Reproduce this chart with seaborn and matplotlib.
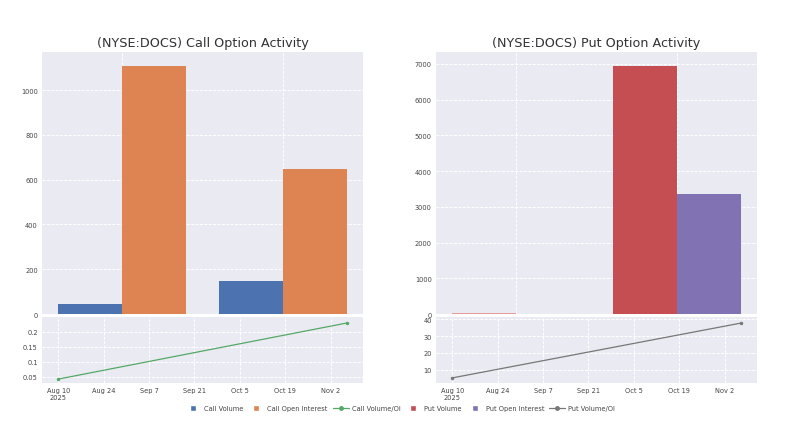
import seaborn as sns
import matplotlib.pyplot as plt
from matplotlib.patches import Patch, Rectangle
from matplotlib.lines import Line2D
from matplotlib.legend_handler import HandlerPatch
import pandas as pd

# values
dates = ['2025-08-10', '2025-11-07']
call_volume = [45, 149]
call_oi = [1108, 649]
put_volume = [40, 6952]
put_oi = [8, 3351]
call_ratio = [0.043, 0.23]
put_ratio = [5.3, 37.6]
date_ticks = ['2025-08-10', '2025-08-24', '2025-09-07', '2025-09-21',
              '2025-10-05', '2025-10-19', '2025-11-02']
date_labels = ['Aug 10\n2025', 'Aug 24', 'Sep 7', 'Sep 21', 'Oct 5', 'Oct 19', 'Nov 2']

blue, orange, green = '#4c72b0', '#dd8452', '#55a868'
red, purple, grey = '#c44e52', '#8172b3', '#777777'

sns.set_theme(style='darkgrid')
plt.rcParams['font.family'] = ['DejaVu Sans']
plt.rcParams['grid.color'] = 'white'
plt.rcParams['grid.linestyle'] = (0, (3, 1.5))
plt.rcParams['grid.linewidth'] = 0.7

fig = plt.figure(figsize=(8, 4.27), dpi=100)
W, H = 800, 427

def px_axes(x0, x1, y0, y1):
    return fig.add_axes([x0 / W, 1 - y1 / H, (x1 - x0) / W, (y1 - y0) / H])

df_call = pd.DataFrame({
    'date': dates * 2,
    'value': call_volume + call_oi,
    'series': ['Call Volume'] * 2 + ['Call Open Interest'] * 2,
})
df_put = pd.DataFrame({
    'date': dates * 2,
    'value': put_volume + put_oi,
    'series': ['Put Volume'] * 2 + ['Put Open Interest'] * 2,
})
df_call_ratio = pd.DataFrame({'date': pd.to_datetime(dates), 'ratio': call_ratio})
df_put_ratio = pd.DataFrame({'date': pd.to_datetime(dates), 'ratio': put_ratio})

tick_dates = pd.to_datetime(date_ticks)


def style_top(ax, ymax, yticks):
    ax.set_xlim(-0.5, 1.5)
    ax.set_ylim(0, ymax)
    ax.set_yticks(yticks)
    ax.set_xticks([0, 1])
    ax.set_xticklabels([])
    ax.xaxis.grid(True)
    ax.set_xlabel('')
    ax.set_ylabel('')
    ax.tick_params(axis='y', labelsize=4.8, pad=3, length=0, labelcolor='#444444')
    ax.tick_params(axis='x', length=0)
    if ax.get_legend() is not None:
        ax.get_legend().remove()
    for s in ax.spines.values():
        s.set_visible(False)


def style_bottom(ax, ylim, yticks, ylabels):
    ax.set_xlim(pd.Timestamp('2025-08-05'), pd.Timestamp('2025-11-12'))
    ax.set_ylim(*ylim)
    ax.set_yticks(yticks)
    ax.set_yticklabels(ylabels)
    ax.set_xticks(tick_dates)
    ax.set_xticklabels(date_labels)
    ax.set_xlabel('')
    ax.set_ylabel('')
    ax.tick_params(axis='both', labelsize=4.8, length=0, labelcolor='#444444')
    ax.tick_params(axis='x', pad=3)
    ax.tick_params(axis='y', pad=3)
    for s in ax.spines.values():
        s.set_visible(False)


# call side
ax1 = px_axes(42, 363, 53, 315)
sns.barplot(data=df_call, x='date', y='value', hue='series',
            palette=[blue, orange], width=0.8, gap=0, ax=ax1,
            edgecolor='none', saturation=1)
style_top(ax1, 1170, [0, 200, 400, 600, 800, 1000])
ax1.set_title('(NYSE:DOCS) Call Option Activity', fontsize=9.2, color='#333333', pad=4)

ax2 = px_axes(42, 363, 318, 384)
sns.lineplot(data=df_call_ratio, x='date', y='ratio', color=green, marker='o',
             markersize=2.5, markeredgewidth=0, linewidth=0.9, ax=ax2)
style_bottom(ax2, (0.03, 0.25), [0.05, 0.1, 0.15, 0.2], ['0.05', '0.1', '0.15', '0.2'])

# put side
ax3 = px_axes(436, 757, 53, 315)
sns.barplot(data=df_put, x='date', y='value', hue='series',
            palette=[red, purple], width=0.8, gap=0, ax=ax3,
            edgecolor='none', saturation=1)
# first put volume bar is drawn faded in the reference
ax3.patches[0].set_facecolor('#e79a9c')
style_top(ax3, 7336, [0, 1000, 2000, 3000, 4000, 5000, 6000, 7000])
ax3.set_title('(NYSE:DOCS) Put Option Activity', fontsize=9.2, color='#333333', pad=4)

ax4 = px_axes(436, 757, 318, 384)
sns.lineplot(data=df_put_ratio, x='date', y='ratio', color=grey, marker='o',
             markersize=2.5, markeredgewidth=0, linewidth=0.9, ax=ax4)
style_bottom(ax4, (2.3, 41.2), [10, 20, 30, 40], ['10', '20', '30', '40'])


def small_square(legend, orig_handle, xdescent, ydescent, width, height, fontsize):
    side = 6 * 72 / 100
    return Rectangle((width - side - 3.6 - xdescent, height / 2 - side / 2 - ydescent), side, side)


handles = [
    Patch(facecolor=blue, label='Call Volume'),
    Patch(facecolor=orange, label='Call Open Interest'),
    Line2D([], [], color=green, marker='o', markersize=2.5, linewidth=0.9, label='Call Volume/OI'),
    Patch(facecolor=red, label='Put Volume'),
    Patch(facecolor=purple, label='Put Open Interest'),
    Line2D([], [], color=grey, marker='o', markersize=2.5, linewidth=0.9, label='Put Volume/OI'),
]
fig.legend(handles=handles, loc='center', bbox_to_anchor=(0.5, 1 - 409 / H), ncol=6,
           frameon=False, fontsize=4.8, handlelength=2.4, handleheight=1.0,
           columnspacing=0.75, handletextpad=0.45, labelcolor='#444444',
           handler_map={Patch: HandlerPatch(patch_func=small_square)})

fig.savefig('out.png', dpi=100)
